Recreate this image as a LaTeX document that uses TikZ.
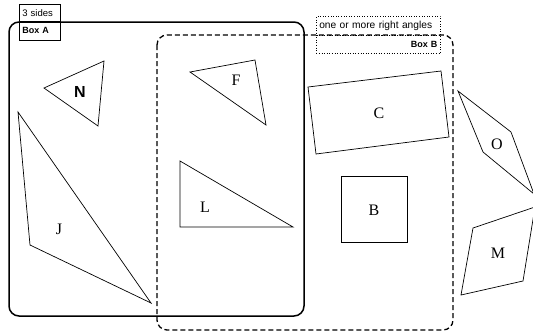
\documentclass[tikz,border=0pt]{standalone}
\usepackage{fontspec}
\setmainfont{Liberation Serif}
\newfontfamily\tagfont{Liberation Sans}
\tikzset{
  shape line/.style={line width=0.7pt},
  letter/.style={font=\fontsize{16}{18}\selectfont, inner sep=0pt},
  tagbox/.style={draw, line width=0.6pt, font=\tagfont\fontsize{9.5}{11}\selectfont, inner sep=3pt, anchor=north west},
}
\begin{document}
\begin{tikzpicture}[x=1pt,y=-1pt]
			\useasboundingbox (0,0) rectangle (533,335);
			%%%%% START %%%%%
			% the two boxes
			\draw[line width=1.5pt, rounded corners=10pt] (9, 22) rectangle (304, 316);
			\draw[line width=1.3pt, dash pattern=on 5pt off 3pt, rounded corners=10pt] (157, 35) rectangle (453, 330);
			
			% labels of box A
			\node[tagbox, minimum width=41pt, minimum height=17pt, text width=35pt, align=left] (sides) at (19, 4) {3 sides};
			\node[tagbox, minimum width=41pt, minimum height=19pt, text width=35pt, align=left, font=\tagfont\bfseries\fontsize{9}{11}\selectfont] (boxA) at (19, 21) {Box A};
			
			% labels of box B
			\node[tagbox, dotted, minimum width=124pt, minimum height=19pt, text width=118pt, align=left, font=\tagfont\fontsize{10.2}{11}\selectfont] (angles) at (316, 16) {one or more right angles};
			\node[tagbox, dotted, minimum width=124pt, minimum height=18pt, text width=118pt, align=right, font=\tagfont\bfseries\fontsize{9}{11}\selectfont] (boxB) at (316, 35) {Box B};
			
			% N
			\draw[shape line] (44, 88) -- (104, 61) -- (98, 126) -- cycle;
			\node[letter, font=\tagfont\bfseries\fontsize{16}{18}\selectfont] (n) at (80, 92) {N};
			
			% J
			\draw[shape line] (18, 112) -- (30, 245) -- (151, 303) -- cycle;
			\node[letter] (j) at (59, 229) {J};
			
			% F
			\draw[shape line] (190, 72) -- (255, 60) -- (266, 125) -- cycle;
			\node[letter] (f) at (236, 80) {F};
			
			% L
			\draw[shape line] (180, 161) -- (180, 227) -- (293, 227) -- cycle;
			\node[letter] (l) at (205, 207) {L};
			
			% C
			\draw[shape line] (308, 87) -- (441, 71) -- (449, 137) -- (316, 154) -- cycle;
			\node[letter] (c) at (379, 113) {C};
			
			% B
			\draw[shape line] (341, 176) rectangle (407, 242);
			\node[letter] (b) at (374, 210) {B};
			
			% O
			\draw[shape line] (458, 91) -- (511, 132) -- (534, 194) -- (483, 152) -- cycle;
			\node[letter] (o) at (497, 144) {O};
			
			% M
			\draw[shape line] (473, 228) -- (535, 207) -- (523, 281) -- (461, 295) -- cycle;
			\node[letter] (m) at (498, 253) {M};
			%%%%% END %%%%%
\end{tikzpicture}
\end{document}
